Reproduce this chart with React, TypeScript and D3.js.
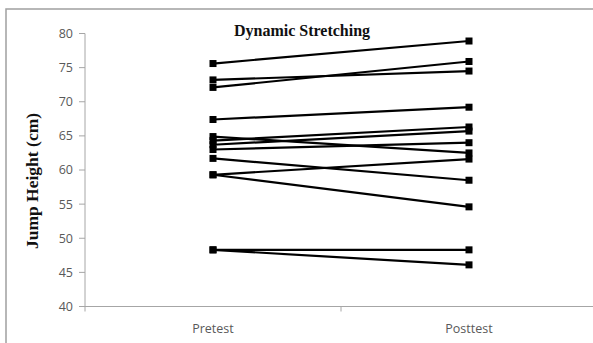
import React from 'react';
import * as d3 from 'd3';

// test phases and jump heights (cm) per subject
const phases = ['Pretest', 'Posttest'];
const pretest = [75.6, 73.2, 72.1, 67.4, 64.9, 64.3, 63.7, 63.0, 61.7, 59.3, 59.3, 48.3, 48.3];
const posttest = [78.9, 74.5, 75.9, 69.2, 62.5, 66.3, 65.7, 64.0, 58.5, 54.6, 61.6, 48.3, 46.1];
const yTicks = [40, 45, 50, 55, 60, 65, 70, 75, 80];

const width = 593, height = 343;
const plot = { left: 85, right: 597, top: 33.5, bottom: 306.5 };

const App = () => {
  // band scale for the category axis, points sit at band centres
  const xScale = d3.scaleBand().domain(phases).range([plot.left, plot.right]);
  const xMid = (p: string) => (xScale(p) as number) + xScale.bandwidth() / 2;
  const yScale = d3.scaleLinear().domain([40, 80]).range([plot.bottom, plot.top]);

  const subjects = pretest.map((v, i) => [
    { phase: phases[0], value: v },
    { phase: phases[1], value: posttest[i] },
  ]);
  const line = d3.line<{ phase: string; value: number }>()
    .x(d => xMid(d.phase))
    .y(d => yScale(d.value));

  const axisColor = '#a6a6a6';
  const labelFont = "'Open Sans', sans-serif";

  return (
    <svg width={width} height={height} style={{ position: 'absolute', left: 0, top: 0, background: '#fff' }}>
      {/* outer chart border, runs off the right and bottom edges */}
      <rect x={6} y={9} width={620} height={360} fill="none" stroke="#a0a0a0" strokeWidth={1.5} />

      {/* title */}
      <text x={302} y={35.5} textAnchor="middle" fontFamily="'Liberation Serif', serif" fontWeight="bold" fontSize="16px" fill="#111">Dynamic Stretching</text>

      {/* y axis */}
      <line x1={plot.left} x2={plot.left} y1={plot.top} y2={plot.bottom} stroke={axisColor} />
      {yTicks.map(t => (
        <g key={t}>
          <line x1={plot.left - 6} x2={plot.left} y1={yScale(t)} y2={yScale(t)} stroke={axisColor} />
          <text x={73} y={yScale(t)} dy="0.35em" textAnchor="end" fontFamily={labelFont} fontSize="12.5px" fill="#595959">{t}</text>
        </g>
      ))}
      <text transform="translate(38, 181) rotate(-90)" textAnchor="middle" fontFamily="'Liberation Serif', serif" fontWeight="bold" fontSize="17.5px" fill="#111">Jump Height (cm)</text>

      {/* x axis */}
      <line x1={plot.left - 6} x2={plot.right} y1={plot.bottom} y2={plot.bottom} stroke={axisColor} />
      {[plot.left, ...phases.map(p => (xScale(p) as number) + xScale.bandwidth())].map(x => (
        <line key={x} x1={x} x2={x} y1={plot.bottom} y2={plot.bottom + 5} stroke={axisColor} />
      ))}
      {phases.map(p => (
        <text key={p} x={xMid(p)} y={329} dy="0.35em" textAnchor="middle" fontFamily={labelFont} fontSize="12.5px" fill="#595959">{p}</text>
      ))}

      {/* one line per subject with square markers */}
      {subjects.map((s, i) => (
        <g key={i}>
          <path d={line(s) as string} fill="none" stroke="#000" strokeWidth={2.2} />
          {s.map(d => (
            <rect key={d.phase} x={xMid(d.phase) - 3.5} y={yScale(d.value) - 3.5} width={7} height={7} fill="#000" />
          ))}
        </g>
      ))}
    </svg>
  );
};

export default App;
